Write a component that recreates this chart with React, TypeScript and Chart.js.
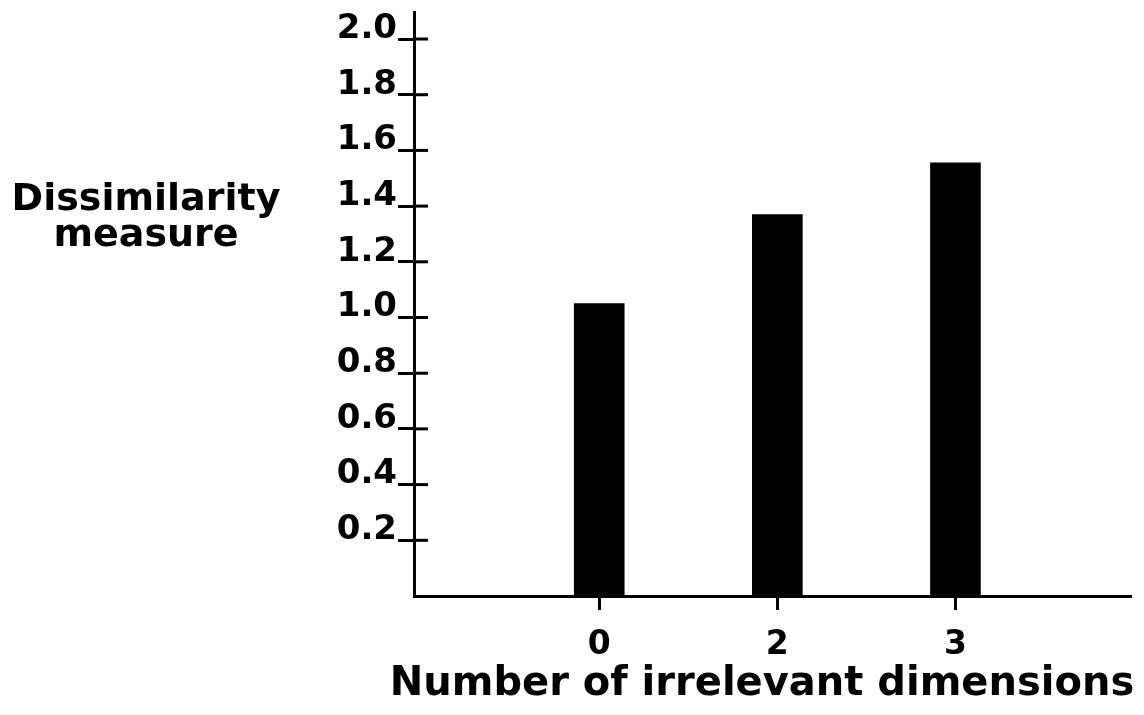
import { useEffect, useRef } from "react";
import { Chart, registerables } from "chart.js";

Chart.register(...registerables);

const categories = ["0", "2", "3"];
const dissimilarity = [1.05, 1.37, 1.555];
const yTickValues = [0.2, 0.4, 0.6, 0.8, 1.0, 1.2, 1.4, 1.6, 1.8, 2.0];
const yTitleLines = ["Dissimilarity", "measure"];
const xTitle = "Number of irrelevant dimensions";

const FONT = "'DejaVu Sans', sans-serif";

export default function App() {
  const ref = useRef<HTMLCanvasElement>(null);

  useEffect(() => {
    const crossTicksAndTitles = {
      id: "crossTicksAndTitles",
      afterDraw(chart: any) {
        const { ctx, chartArea } = chart;
        const y = chart.scales.y;
        ctx.save();
        ctx.strokeStyle = "#000";
        ctx.lineWidth = 3;
        for (const v of yTickValues) {
          const py = y.getPixelForValue(v);
          ctx.beginPath();
          ctx.moveTo(chartArea.left, py);
          ctx.lineTo(chartArea.left + 14, py);
          ctx.stroke();
        }
        ctx.fillStyle = "#000";
        ctx.textAlign = "center";
        ctx.textBaseline = "alphabetic";
        ctx.font = `bold 38px ${FONT}`;
        yTitleLines.forEach((t, i) => ctx.fillText(t, 146, 210 + i * 36));
        ctx.font = `bold 40px ${FONT}`;
        ctx.fillText(xTitle, (chartArea.left + chartArea.right) / 2 - 10, 695);
        ctx.restore();
      },
    };

    const chart = new Chart(ref.current as HTMLCanvasElement, {
      type: "bar",
      data: {
        datasets: [
          {
            data: categories.map((_, i) => ({ x: i + 1, y: dissimilarity[i] })) as any,
            backgroundColor: "#000",
            borderWidth: 0,
            barThickness: 50,
          },
        ],
      },
      options: {
        animation: false,
        responsive: false,
        maintainAspectRatio: false,
        layout: { padding: { top: 12, right: 14, left: 0, bottom: 0 } },
        plugins: { legend: { display: false }, tooltip: { enabled: false } },
        scales: {
          x: {
            type: "linear",
            min: -0.04,
            max: 3.98,
            offset: false,
            afterBuildTicks: (s: any) => {
              s.ticks = categories.map((_, i) => ({ value: i + 1 }));
            },
            afterFit: (s: any) => {
              s.height = 119;
              s.paddingLeft = 0;
              s.paddingRight = 0;
            },
            ticks: {
              callback: (v: any) => categories[Number(v) - 1] ?? "",
              font: { family: FONT, size: 33, weight: "bold" },
              color: "#000",
              padding: 16,
              autoSkip: false,
              maxRotation: 0,
            },
            grid: {
              offset: false,
              drawOnChartArea: false,
              drawTicks: true,
              tickLength: 14,
              lineWidth: 3,
              color: "#000",
            },
            border: { display: true, width: 3, color: "#000" },
          },
          y: {
            min: 0,
            max: 2.097,
            afterBuildTicks: (s: any) => {
              s.ticks = yTickValues.map((v) => ({ value: v }));
            },
            afterFit: (s: any) => {
              s.width = 414;
              s.paddingTop = 0;
              s.paddingBottom = 0;
            },
            ticks: {
              callback: (v: any) => Number(v).toFixed(1),
              font: { family: FONT, size: 34, weight: "bold" },
              color: "#000",
              padding: 1,
              labelOffset: -10,
            },
            grid: {
              offset: false,
              drawOnChartArea: false,
              drawTicks: true,
              tickLength: 16,
              lineWidth: 3,
              color: "#000",
            },
            border: { display: true, width: 3, color: "#000" },
          },
        },
      } as any,
      plugins: [crossTicksAndTitles],
    });
    return () => chart.destroy();
  }, []);

  return (
    <div style={{ position: "fixed", left: 0, top: 0, width: 1144, height: 715, background: "#fff" }}>
      <canvas ref={ref} width={1144} height={715} style={{ width: 1144, height: 715, display: "block" }} />
    </div>
  );
}
